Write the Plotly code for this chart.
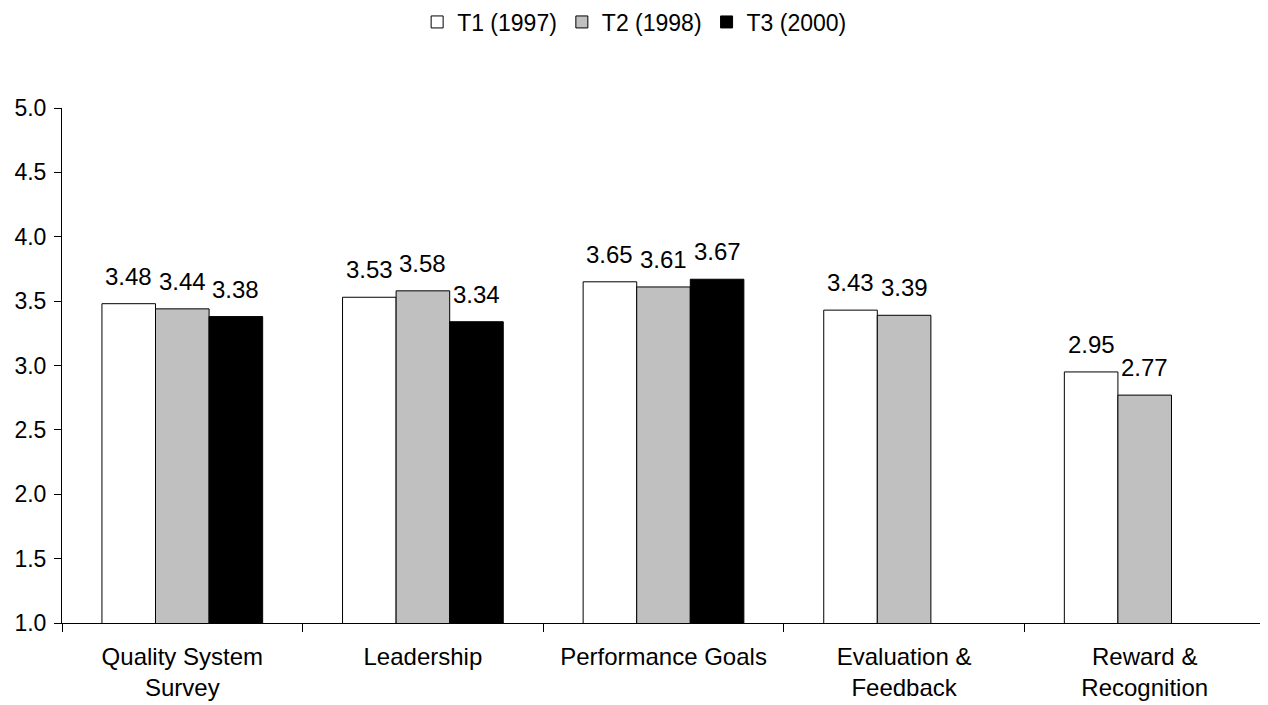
import plotly.graph_objects as go

categories = ["Quality System<br>Survey", "Leadership", "Performance Goals",
              "Evaluation &<br>Feedback", "Reward &<br>Recognition"]
t1 = [3.48, 3.53, 3.65, 3.43, 2.95]
t2 = [3.44, 3.58, 3.61, 3.39, 2.77]
t3 = [3.38, 3.34, 3.67, None, None]
series_names = ["T1 (1997)", "T2 (1998)", "T3 (2000)"]
colors = ["#FFFFFF", "#C0C0C0", "#000000"]

bargap = 0.332
n_series = 3
bar_w = (1 - bargap) / n_series

fig = go.Figure()
annotations = []
for k, (name, vals, col) in enumerate(zip(series_names, [t1, t2, t3], colors)):
    fig.add_trace(go.Bar(
        x=categories, y=vals, name=name,
        marker=dict(color=col, line=dict(color="black", width=1)),
    ))
    for i, v in enumerate(vals):
        if v is None:
            continue
        annotations.append(dict(
            x=i + (k - (n_series - 1) / 2) * bar_w, y=v, xref="x", yref="y",
            text="%.2f" % v, showarrow=False, yanchor="bottom", xanchor="center",
            yshift=12, font=dict(size=24, color="black"),
        ))

fig.update_layout(
    width=1260, height=697,
    barmode="group", bargap=bargap, bargroupgap=0,
    plot_bgcolor="white", paper_bgcolor="white",
    font=dict(family="Liberation Sans, Arial, sans-serif", size=23, color="black"),
    margin=dict(l=54, r=3, t=100, b=82, autoexpand=False),
    legend=dict(orientation="h", x=0.476, xanchor="center", y=1.167, yanchor="middle",
                font=dict(size=23), itemwidth=30, traceorder="normal"),
    annotations=annotations,
)
fig.update_xaxes(showline=True, linecolor="black", linewidth=1, ticks="outside",
                 tickson="boundaries", ticklen=8, tickcolor="black", showgrid=False,
                 automargin=False, tickfont=dict(size=24), ticklabelstandoff=12)
fig.update_yaxes(range=[1, 5], dtick=0.5, tickformat=".1f", showline=True,
                 linecolor="black", linewidth=1, ticks="outside", ticklen=7,
                 tickcolor="black", showgrid=False, zeroline=False, automargin=False,
                 tickfont=dict(size=23), ticklabelstandoff=3)

fig.write_html("out.html")
